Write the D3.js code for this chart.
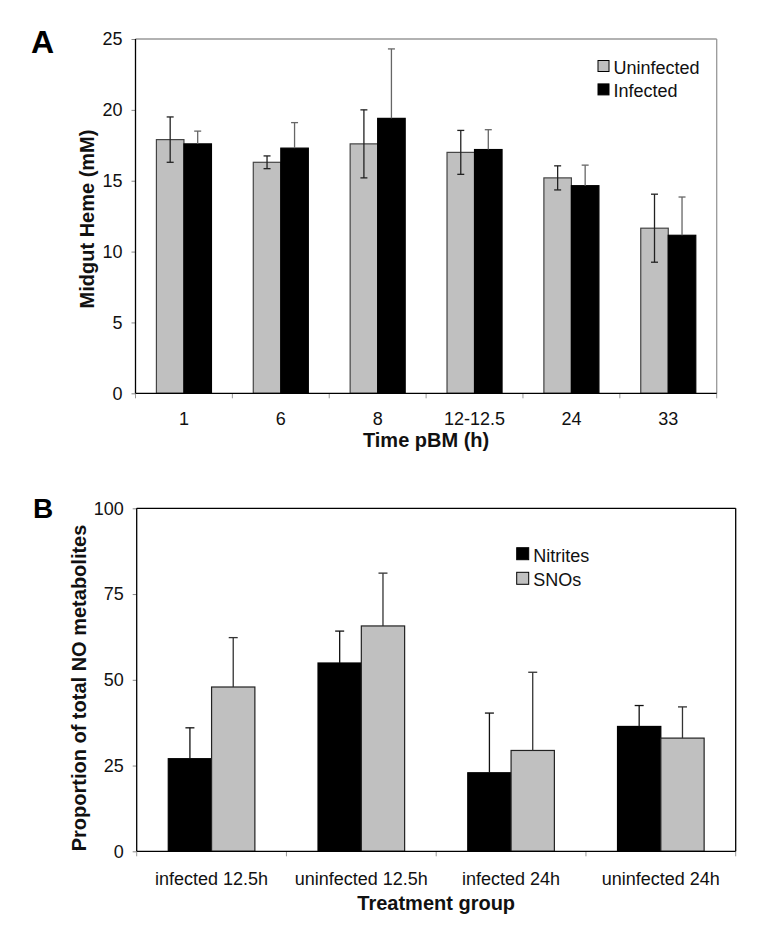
<!DOCTYPE html>
<html>
<head>
<meta charset="utf-8">
<script src="https://cdn.jsdelivr.net/npm/d3@7"></script>
<style>
  html, body { margin: 0; padding: 0; background: #fff; }
  svg { display: block; font-family: "Liberation Sans", Arial, sans-serif; }
</style>
</head>
<body>
<svg id="chart" width="758" height="937"></svg>
<script>
// ---------- Panel A data ----------
const timeCategories = ["1", "6", "8", "12-12.5", "24", "33"];
const hemeSeries = ["Uninfected", "Infected"];
const uninfectedMean = [17.9, 16.3, 17.6, 17.0, 15.2, 11.65];
const uninfectedErr  = [1.6, 0.45, 2.4, 1.55, 0.85, 2.4];
const infectedMean   = [17.6, 17.3, 19.4, 17.2, 14.65, 11.15];
const infectedErr    = [0.9, 1.8, 4.9, 1.4, 1.45, 2.7];
const hemeTicks = [0, 5, 10, 15, 20, 25];

// ---------- Panel B data ----------
const groupCategories = ["infected 12.5h", "uninfected 12.5h", "infected 24h", "uninfected 24h"];
const noSeries = ["Nitrites", "SNOs"];
const nitritesMean = [27.0, 54.9, 22.9, 36.4];
const nitritesErr  = [9.0, 9.3, 17.4, 6.1];
const snosMean     = [47.9, 65.7, 29.4, 33.0];
const snosErr      = [14.4, 15.4, 22.8, 9.1];
const noTicks = [0, 25, 50, 75, 100];

const svg = d3.select("#chart");
const GRAY = "#c0c0c0";

function panel(cfg) {
  const g = svg.append("g");
  const x = d3.scaleBand().domain(cfg.categories).range([cfg.left, cfg.right]).padding(0);
  const xs = d3.scaleBand().domain(cfg.series).range([0, x.step()]).paddingInner(0).paddingOuter(cfg.innerPad);
  const y = d3.scaleLinear().domain([0, cfg.ymax]).range([cfg.bottom, cfg.top]);

  // frame (top/right)
  g.append("line").attr("x1", cfg.left).attr("x2", cfg.right).attr("y1", cfg.top).attr("y2", cfg.top)
    .attr("stroke", cfg.frameColor).attr("stroke-width", 1.3);
  g.append("line").attr("x1", cfg.right).attr("x2", cfg.right).attr("y1", cfg.top).attr("y2", cfg.bottom)
    .attr("stroke", cfg.frameColor).attr("stroke-width", 1.3);

  const rows = [];
  cfg.categories.forEach((c, i) => {
    cfg.series.forEach((s, j) => {
      rows.push({ cat: c, ser: s, v: cfg.means[j][i], e: cfg.errs[j][i], fill: cfg.fills[j],
        stroke: cfg.strokes[j], errColor: cfg.errColors[j], both: cfg.bothSides[j] });
    });
  });

  // bars
  g.selectAll("rect.bar").data(rows).join("rect")
    .attr("class", "bar")
    .attr("x", d => x(d.cat) + xs(d.ser))
    .attr("y", d => y(d.v))
    .attr("width", xs.bandwidth())
    .attr("height", d => y(0) - y(d.v))
    .attr("fill", d => d.fill)
    .attr("stroke", d => d.stroke)
    .attr("stroke-width", 1.2);

  // error bars
  const eg = g.selectAll("g.err").data(rows).join("g").attr("class", "err")
    .attr("stroke", d => d.errColor).attr("stroke-width", 1.3);
  const cx = d => x(d.cat) + xs(d.ser) + xs.bandwidth() / 2;
  eg.append("line")
    .attr("x1", cx).attr("x2", cx)
    .attr("y1", d => d.both ? y(d.v - d.e) : y(d.v))
    .attr("y2", d => y(d.v + d.e));
  eg.append("line")
    .attr("x1", d => cx(d) - cfg.cap).attr("x2", d => cx(d) + cfg.cap)
    .attr("y1", d => y(d.v + d.e)).attr("y2", d => y(d.v + d.e));
  eg.filter(d => d.both).append("line")
    .attr("x1", d => cx(d) - cfg.cap).attr("x2", d => cx(d) + cfg.cap)
    .attr("y1", d => y(d.v - d.e)).attr("y2", d => y(d.v - d.e));

  // y axis
  const ya = g.append("g").attr("transform", `translate(${cfg.left},0)`)
    .call(d3.axisLeft(y).tickValues(cfg.ticks).tickSize(4).tickPadding(9).tickFormat(d3.format("d")));
  ya.select(".domain").remove();
  ya.selectAll(".tick line").attr("stroke", "#888");
  ya.selectAll(".tick text").attr("font-size", 18).attr("fill", "#111").attr("font-family", "Liberation Sans, Arial, sans-serif");
  g.append("line").attr("x1", cfg.left).attr("x2", cfg.left).attr("y1", cfg.top).attr("y2", cfg.bottom)
    .attr("stroke", "#000").attr("stroke-width", 1.3);

  // x axis labels
  const xa = g.append("g").attr("transform", `translate(0,${cfg.bottom})`)
    .call(d3.axisBottom(x).tickSize(0).tickPadding(cfg.xLabelPad));
  xa.select(".domain").remove();
  xa.selectAll(".tick text").attr("font-size", 18).attr("fill", "#111").attr("font-family", "Liberation Sans, Arial, sans-serif");
  const bounds = cfg.categories.map(c => x(c)).concat([x(cfg.categories[cfg.categories.length - 1]) + x.step()]);
  g.selectAll("line.bt").data(bounds).join("line").attr("class", "bt")
    .attr("x1", d => d).attr("x2", d => d).attr("y1", cfg.bottom).attr("y2", cfg.bottom + 5)
    .attr("stroke", "#999").attr("stroke-width", 1);
  g.append("line").attr("x1", cfg.left).attr("x2", cfg.right).attr("y1", cfg.bottom).attr("y2", cfg.bottom)
    .attr("stroke", "#000").attr("stroke-width", 1.3);

  // titles
  g.append("text").attr("x", (cfg.left + cfg.right) / 2).attr("y", cfg.xTitleY)
    .attr("text-anchor", "middle").attr("font-size", 20).attr("font-weight", "bold").attr("fill", "#111")
    .text(cfg.xTitle);
  g.append("text").attr("transform", `translate(${cfg.yTitleX},${cfg.yTitleCY}) rotate(-90)`)
    .attr("text-anchor", "middle").attr("font-size", 20).attr("font-weight", "bold").attr("fill", "#111")
    .text(cfg.yTitle);
  g.append("text").attr("x", cfg.letterX).attr("y", cfg.letterY)
    .attr("font-size", cfg.letterSize).attr("font-weight", "bold").attr("fill", "#000").text(cfg.letter);

  // legend
  const lg = g.append("g");
  cfg.series.forEach((s, j) => {
    lg.append("rect").attr("x", cfg.legX).attr("y", cfg.legY + j * cfg.legDy)
      .attr("width", cfg.legBox).attr("height", cfg.legBox)
      .attr("fill", cfg.fills[j]).attr("stroke", "#000").attr("stroke-width", 1);
    lg.append("text").attr("x", cfg.legX + cfg.legBox + 4.5).attr("y", cfg.legY + j * cfg.legDy + cfg.legBox + 2)
      .attr("font-size", 18).attr("fill", "#111").text(s);
  });
}

panel({
  categories: timeCategories, series: hemeSeries,
  means: [uninfectedMean, infectedMean], errs: [uninfectedErr, infectedErr],
  fills: [GRAY, "#000"], strokes: ["#444", "#000"], errColors: ["#222", "#666"],
  left: 135.5, right: 716.7, top: 39, bottom: 393.3, ymax: 25, ticks: hemeTicks,
  innerPad: 0.76, cap: 3.5, bothSides: [true, false], frameColor: "#999",
  xLabelPad: 19, xTitle: "Time pBM (h)", xTitleY: 446.5,
  yTitle: "Midgut Heme (mM)", yTitleX: 93.5, yTitleCY: 219,
  letter: "A", letterX: 31, letterY: 53.3, letterSize: 32,
  legX: 598, legY: 60.5, legDy: 23.4, legBox: 11
});

panel({
  categories: groupCategories, series: noSeries,
  means: [nitritesMean, snosMean], errs: [nitritesErr, snosErr],
  fills: ["#000", GRAY], strokes: ["#000", "#222"], errColors: ["#111", "#333"],
  left: 136.7, right: 735.7, top: 508.3, bottom: 851.3, ymax: 100, ticks: noTicks,
  innerPad: 0.729, cap: 4.5, bothSides: [false, false], frameColor: "#000",
  xLabelPad: 21, xTitle: "Treatment group", xTitleY: 910,
  yTitle: "Proportion of total NO metabolites", yTitleX: 86, yTitleCY: 688,
  letter: "B", letterX: 33, letterY: 518.3, letterSize: 28,
  legX: 516.7, legY: 547.7, legDy: 24.6, legBox: 12
});
</script>
</body>
</html>
